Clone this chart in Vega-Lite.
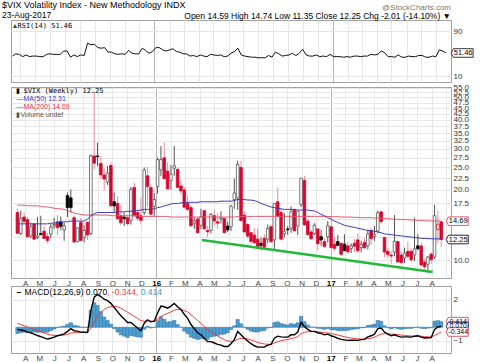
{
"$schema": "https://vega.github.io/schema/vega-lite/v6.json",
"padding": {"left": 1, "top": 0, "right": 2, "bottom": 0},
"background": "white",
"bounds": "flush",
"spacing": 5,
"config": {"font": "Liberation Sans", "view": {"stroke": "#a0a0a0"}, "axis": {"labelFont": "Liberation Sans", "labelFontSize": 8, "labelColor": "#333"}},
"title": {"text": "$VIX Volatility Index - New Methodology INDX", "subtitle": "23-Aug-2017", "anchor": "start", "dx": -8, "offset": -16, "fontSize": 9, "fontWeight": "normal", "color": "#000", "subtitleFontSize": 8.5, "subtitleColor": "#000", "subtitlePadding": 1},
"datasets": {
"w": [
{"d":"2015-03-16","o":16.0,"h":16.6,"l":13.0,"c":13.02,"a":14.3,"b":17.2,"r":46,"m":-0.15,"s":0.30,"g":-0.45},
{"d":"2015-03-23","o":13.0,"h":16.3,"l":12.8,"c":15.07,"a":14.3,"b":17.2,"r":50,"m":-0.20,"s":0.20,"g":-0.40},
{"d":"2015-03-30","o":15.3,"h":16.0,"l":14.3,"c":14.67,"a":14.3,"b":17.2,"r":49,"m":-0.25,"s":0.11,"g":-0.36},
{"d":"2015-04-06","o":14.9,"h":15.3,"l":12.6,"c":12.58,"a":14.3,"b":17.1,"r":45,"m":-0.35,"s":0.02,"g":-0.37},
{"d":"2015-04-13","o":12.7,"h":14.4,"l":12.4,"c":13.89,"a":14.3,"b":17.1,"r":48,"m":-0.40,"s":-0.06,"g":-0.34},
{"d":"2015-04-20","o":14.3,"h":14.4,"l":12.2,"c":12.29,"a":14.3,"b":17.1,"r":45,"m":-0.50,"s":-0.15,"g":-0.35},
{"d":"2015-04-27","o":12.5,"h":15.3,"l":12.3,"c":12.70,"a":14.3,"b":17.1,"r":46,"m":-0.60,"s":-0.24,"g":-0.36},
{"d":"2015-05-04","o":13.0,"h":15.5,"l":12.8,"c":12.86,"a":14.3,"b":17.0,"r":46,"m":-0.68,"s":-0.33,"g":-0.35},
{"d":"2015-05-11","o":13.3,"h":14.0,"l":12.3,"c":12.38,"a":14.3,"b":16.9,"r":45,"m":-0.78,"s":-0.42,"g":-0.36},
{"d":"2015-05-18","o":12.6,"h":13.1,"l":11.8,"c":12.13,"a":14.3,"b":16.9,"r":45,"m":-0.86,"s":-0.50,"g":-0.36},
{"d":"2015-05-25","o":12.9,"h":14.3,"l":12.4,"c":13.84,"a":14.4,"b":16.8,"r":49,"m":-0.80,"s":-0.56,"g":-0.24},
{"d":"2015-06-01","o":14.0,"h":15.2,"l":13.6,"c":14.21,"a":14.4,"b":16.7,"r":50,"m":-0.72,"s":-0.59,"g":-0.13},
{"d":"2015-06-08","o":14.6,"h":15.6,"l":12.8,"c":13.78,"a":14.5,"b":16.6,"r":49,"m":-0.62,"s":-0.60,"g":-0.02},
{"d":"2015-06-15","o":14.6,"h":15.4,"l":13.4,"c":13.96,"a":14.5,"b":16.6,"r":49,"m":-0.55,"s":-0.59,"g":0.04},
{"d":"2015-06-22","o":13.5,"h":14.5,"l":12.1,"c":14.02,"a":14.6,"b":16.5,"r":49,"m":-0.48,"s":-0.57,"g":0.09},
{"d":"2015-06-29","o":18.9,"h":19.5,"l":15.3,"c":16.79,"a":14.6,"b":16.3,"r":55,"m":-0.30,"s":-0.52,"g":0.22},
{"d":"2015-07-06","o":18.5,"h":20.1,"l":16.0,"c":16.83,"a":14.7,"b":16.1,"r":55,"m":-0.10,"s":-0.43,"g":0.33},
{"d":"2015-07-13","o":15.2,"h":15.6,"l":11.8,"c":11.95,"a":14.7,"b":15.9,"r":44,"m":-0.25,"s":-0.40,"g":0.15},
{"d":"2015-07-20","o":12.0,"h":13.8,"l":11.9,"c":13.74,"a":14.7,"b":15.8,"r":48,"m":-0.28,"s":-0.38,"g":0.10},
{"d":"2015-07-27","o":14.5,"h":15.2,"l":12.1,"c":12.12,"a":14.7,"b":15.7,"r":45,"m":-0.35,"s":-0.37,"g":0.02},
{"d":"2015-08-03","o":12.5,"h":14.1,"l":11.9,"c":13.39,"a":14.7,"b":15.6,"r":48,"m":-0.36,"s":-0.37,"g":0.01},
{"d":"2015-08-10","o":14.5,"h":14.7,"l":12.2,"c":12.83,"a":15.0,"b":15.6,"r":47,"m":-0.38,"s":-0.37,"g":-0.01},
{"d":"2015-08-17","o":13.0,"h":28.4,"l":12.8,"c":28.03,"a":15.5,"b":15.6,"r":69,"m":1.20,"s":-0.06,"g":1.26},
{"d":"2015-08-24","o":28.0,"h":53.3,"l":24.5,"c":26.05,"a":15.8,"b":15.6,"r":66,"m":2.20,"s":0.40,"g":1.80},
{"d":"2015-08-31","o":28.0,"h":31.9,"l":25.3,"c":27.80,"a":16.0,"b":15.6,"r":67,"m":2.40,"s":0.80,"g":1.60},
{"d":"2015-09-07","o":26.0,"h":28.0,"l":22.3,"c":23.20,"a":16.0,"b":15.6,"r":61,"m":2.25,"s":1.10,"g":1.15},
{"d":"2015-09-14","o":23.2,"h":24.8,"l":19.9,"c":22.28,"a":16.0,"b":15.6,"r":60,"m":2.05,"s":1.30,"g":0.75},
{"d":"2015-09-21","o":21.6,"h":25.3,"l":21.0,"c":23.62,"a":16.0,"b":15.6,"r":61,"m":1.95,"s":1.45,"g":0.50},
{"d":"2015-09-28","o":25.5,"h":26.3,"l":17.1,"c":17.08,"a":16.0,"b":15.5,"r":53,"m":1.75,"s":1.52,"g":0.23},
{"d":"2015-10-05","o":17.8,"h":19.5,"l":16.1,"c":17.10,"a":16.0,"b":15.5,"r":53,"m":1.45,"s":1.55,"g":-0.10},
{"d":"2015-10-12","o":17.5,"h":18.8,"l":15.0,"c":15.05,"a":16.1,"b":15.5,"r":50,"m":1.15,"s":1.50,"g":-0.35},
{"d":"2015-10-19","o":15.5,"h":17.2,"l":14.1,"c":14.46,"a":16.1,"b":15.5,"r":49,"m":0.85,"s":1.40,"g":-0.55},
{"d":"2015-10-26","o":15.3,"h":16.0,"l":14.0,"c":15.07,"a":16.1,"b":15.5,"r":50,"m":0.60,"s":1.25,"g":-0.65},
{"d":"2015-11-02","o":15.2,"h":15.6,"l":14.1,"c":14.33,"a":16.2,"b":15.5,"r":49,"m":0.35,"s":1.10,"g":-0.75},
{"d":"2015-11-09","o":14.8,"h":20.6,"l":14.2,"c":20.08,"a":16.2,"b":15.5,"r":56,"m":0.35,"s":0.95,"g":-0.60},
{"d":"2015-11-16","o":20.5,"h":21.5,"l":15.4,"c":15.47,"a":16.3,"b":15.5,"r":51,"m":0.15,"s":0.80,"g":-0.65},
{"d":"2015-11-23","o":16.0,"h":16.5,"l":14.8,"c":15.12,"a":16.3,"b":15.5,"r":50,"m":-0.05,"s":0.65,"g":-0.70},
{"d":"2015-11-30","o":15.5,"h":18.5,"l":14.2,"c":14.81,"a":16.4,"b":15.4,"r":50,"m":-0.25,"s":0.48,"g":-0.73},
{"d":"2015-12-07","o":16.0,"h":25.0,"l":15.6,"c":24.39,"a":16.5,"b":15.4,"r":60,"m":0.30,"s":0.45,"g":-0.15},
{"d":"2015-12-14","o":23.0,"h":25.1,"l":17.0,"c":20.70,"a":16.5,"b":15.4,"r":56,"m":0.55,"s":0.47,"g":0.08},
{"d":"2015-12-21","o":20.5,"h":21.0,"l":15.6,"c":15.74,"a":16.5,"b":15.4,"r":51,"m":0.40,"s":0.45,"g":-0.05},
{"d":"2015-12-28","o":17.0,"h":19.4,"l":15.4,"c":18.21,"a":16.6,"b":15.4,"r":54,"m":0.45,"s":0.45,"g":0.00},
{"d":"2016-01-04","o":20.7,"h":27.6,"l":19.3,"c":27.01,"a":16.8,"b":15.4,"r":61,"m":1.05,"s":0.57,"g":0.48},
{"d":"2016-01-11","o":24.4,"h":30.9,"l":22.9,"c":27.02,"a":16.9,"b":15.4,"r":61,"m":1.55,"s":0.77,"g":0.78},
{"d":"2016-01-18","o":27.5,"h":32.1,"l":22.3,"c":22.34,"a":17.1,"b":15.4,"r":57,"m":1.50,"s":0.92,"g":0.58},
{"d":"2016-01-25","o":24.1,"h":26.3,"l":20.2,"c":20.20,"a":17.2,"b":15.4,"r":55,"m":1.40,"s":1.02,"g":0.38},
{"d":"2016-02-01","o":22.0,"h":25.6,"l":20.0,"c":23.38,"a":17.4,"b":15.3,"r":57,"m":1.55,"s":1.13,"g":0.42},
{"d":"2016-02-08","o":24.8,"h":30.9,"l":23.0,"c":25.40,"a":17.5,"b":15.3,"r":59,"m":1.75,"s":1.25,"g":0.50},
{"d":"2016-02-15","o":24.5,"h":25.0,"l":20.3,"c":20.53,"a":17.5,"b":15.3,"r":54,"m":1.50,"s":1.30,"g":0.20},
{"d":"2016-02-22","o":20.8,"h":22.0,"l":19.1,"c":19.81,"a":17.6,"b":15.3,"r":53,"m":1.30,"s":1.30,"g":0.00},
{"d":"2016-02-29","o":20.0,"h":20.6,"l":16.6,"c":16.86,"a":17.6,"b":15.3,"r":50,"m":0.95,"s":1.23,"g":-0.28},
{"d":"2016-03-07","o":17.5,"h":18.8,"l":16.2,"c":16.50,"a":17.7,"b":15.3,"r":50,"m":0.65,"s":1.12,"g":-0.47},
{"d":"2016-03-14","o":16.8,"h":17.1,"l":14.0,"c":14.02,"a":17.7,"b":15.3,"r":46,"m":0.20,"s":0.92,"g":-0.72},
{"d":"2016-03-21","o":14.4,"h":15.3,"l":13.6,"c":14.74,"a":17.7,"b":15.3,"r":47,"m":-0.10,"s":0.71,"g":-0.81},
{"d":"2016-03-28","o":15.0,"h":15.3,"l":13.1,"c":13.10,"a":17.7,"b":15.3,"r":45,"m":-0.40,"s":0.49,"g":-0.89},
{"d":"2016-04-04","o":14.1,"h":16.6,"l":13.6,"c":15.36,"a":17.8,"b":15.3,"r":48,"m":-0.55,"s":0.28,"g":-0.83},
{"d":"2016-04-11","o":16.3,"h":16.3,"l":13.4,"c":13.62,"a":17.8,"b":15.3,"r":46,"m":-0.80,"s":0.06,"g":-0.86},
{"d":"2016-04-18","o":13.4,"h":14.0,"l":12.5,"c":13.22,"a":17.8,"b":15.3,"r":45,"m":-1.05,"s":-0.16,"g":-0.89},
{"d":"2016-04-25","o":13.4,"h":15.9,"l":13.0,"c":15.70,"a":17.8,"b":15.3,"r":49,"m":-1.05,"s":-0.34,"g":-0.71},
{"d":"2016-05-02","o":15.5,"h":16.5,"l":14.1,"c":14.72,"a":17.8,"b":15.3,"r":48,"m":-1.15,"s":-0.50,"g":-0.65},
{"d":"2016-05-09","o":14.6,"h":15.9,"l":13.6,"c":14.41,"a":17.8,"b":15.3,"r":47,"m":-1.25,"s":-0.65,"g":-0.60},
{"d":"2016-05-16","o":15.0,"h":16.2,"l":14.4,"c":15.20,"a":17.9,"b":15.3,"r":48,"m":-1.30,"s":-0.78,"g":-0.52},
{"d":"2016-05-23","o":15.1,"h":15.1,"l":13.0,"c":13.12,"a":17.9,"b":15.3,"r":45,"m":-1.40,"s":-0.90,"g":-0.50},
{"d":"2016-05-30","o":14.0,"h":14.6,"l":13.2,"c":13.47,"a":17.9,"b":15.3,"r":46,"m":-1.40,"s":-1.00,"g":-0.40},
{"d":"2016-06-06","o":13.9,"h":17.3,"l":13.3,"c":17.03,"a":17.9,"b":15.3,"r":51,"m":-1.20,"s":-1.04,"g":-0.16},
{"d":"2016-06-13","o":18.2,"h":22.4,"l":16.6,"c":19.41,"a":18.0,"b":15.3,"r":54,"m":-0.90,"s":-1.01,"g":0.11},
{"d":"2016-06-20","o":18.5,"h":26.7,"l":16.4,"c":25.76,"a":18.2,"b":15.4,"r":60,"m":-0.30,"s":-0.87,"g":0.57},
{"d":"2016-06-27","o":25.0,"h":26.7,"l":14.7,"c":14.77,"a":18.2,"b":15.4,"r":48,"m":-0.55,"s":-0.81,"g":0.26},
{"d":"2016-07-04","o":15.6,"h":16.1,"l":13.5,"c":13.20,"a":18.2,"b":15.4,"r":46,"m":-0.80,"s":-0.81,"g":0.01},
{"d":"2016-07-11","o":14.2,"h":14.4,"l":12.4,"c":12.67,"a":18.1,"b":15.4,"r":45,"m":-1.00,"s":-0.85,"g":-0.15},
{"d":"2016-07-18","o":13.1,"h":13.2,"l":11.7,"c":12.02,"a":18.1,"b":15.4,"r":44,"m":-1.20,"s":-0.92,"g":-0.28},
{"d":"2016-07-25","o":12.8,"h":13.7,"l":11.7,"c":11.87,"a":18.0,"b":15.4,"r":44,"m":-1.35,"s":-1.01,"g":-0.34},
{"d":"2016-08-01","o":12.3,"h":13.7,"l":11.4,"c":11.39,"a":17.8,"b":15.4,"r":43,"m":-1.45,"s":-1.10,"g":-0.35},
{"d":"2016-08-08","o":11.8,"h":12.5,"l":11.0,"c":11.55,"a":17.5,"b":15.4,"r":43,"m":-1.45,"s":-1.17,"g":-0.28},
{"d":"2016-08-15","o":12.4,"h":12.9,"l":11.4,"c":11.34,"a":17.3,"b":15.4,"r":43,"m":-1.45,"s":-1.22,"g":-0.23},
{"d":"2016-08-22","o":12.3,"h":14.2,"l":11.8,"c":13.65,"a":17.1,"b":15.4,"r":47,"m":-1.30,"s":-1.24,"g":-0.06},
{"d":"2016-08-29","o":13.9,"h":14.1,"l":11.9,"c":11.98,"a":16.9,"b":15.4,"r":44,"m":-1.25,"s":-1.24,"g":-0.01},
{"d":"2016-09-05","o":12.2,"h":17.5,"l":11.0,"c":17.50,"a":16.8,"b":15.4,"r":53,"m":-0.80,"s":-1.15,"g":0.35},
{"d":"2016-09-12","o":17.8,"h":20.5,"l":15.4,"c":15.37,"a":16.7,"b":15.4,"r":50,"m":-0.65,"s":-1.05,"g":0.40},
{"d":"2016-09-19","o":16.0,"h":16.6,"l":12.3,"c":12.29,"a":16.6,"b":15.4,"r":46,"m":-0.70,"s":-0.98,"g":0.28},
{"d":"2016-09-26","o":13.0,"h":15.9,"l":12.5,"c":13.29,"a":16.5,"b":15.4,"r":47,"m":-0.72,"s":-0.93,"g":0.21},
{"d":"2016-10-03","o":13.6,"h":14.0,"l":12.8,"c":13.48,"a":16.5,"b":15.4,"r":48,"m":-0.72,"s":-0.89,"g":0.17},
{"d":"2016-10-10","o":13.7,"h":17.0,"l":13.1,"c":16.12,"a":16.5,"b":15.4,"r":51,"m":-0.55,"s":-0.82,"g":0.27},
{"d":"2016-10-17","o":16.5,"h":16.6,"l":13.3,"c":13.34,"a":16.5,"b":15.4,"r":47,"m":-0.55,"s":-0.77,"g":0.22},
{"d":"2016-10-24","o":14.0,"h":16.2,"l":12.8,"c":16.19,"a":16.4,"b":15.4,"r":51,"m":-0.35,"s":-0.68,"g":0.33},
{"d":"2016-10-31","o":17.3,"h":22.5,"l":16.9,"c":22.51,"a":16.4,"b":15.4,"r":58,"m":0.35,"s":-0.46,"g":0.81},
{"d":"2016-11-07","o":22.0,"h":23.0,"l":14.0,"c":14.17,"a":16.4,"b":15.4,"r":48,"m":0.05,"s":-0.36,"g":0.41},
{"d":"2016-11-14","o":14.7,"h":15.1,"l":12.8,"c":12.85,"a":16.4,"b":15.4,"r":46,"m":-0.15,"s":-0.32,"g":0.17},
{"d":"2016-11-21","o":13.2,"h":13.5,"l":12.2,"c":12.34,"a":16.3,"b":15.4,"r":46,"m":-0.30,"s":-0.32,"g":0.02},
{"d":"2016-11-28","o":13.0,"h":14.4,"l":12.8,"c":14.12,"a":16.25,"b":15.4,"r":48,"m":-0.30,"s":-0.32,"g":0.02},
{"d":"2016-12-05","o":13.6,"h":13.6,"l":11.0,"c":11.75,"a":16.0,"b":15.4,"r":45,"m":-0.40,"s":-0.33,"g":-0.07},
{"d":"2016-12-12","o":12.6,"h":13.5,"l":11.5,"c":12.20,"a":15.7,"b":15.4,"r":46,"m":-0.45,"s":-0.36,"g":-0.09},
{"d":"2016-12-19","o":12.0,"h":12.4,"l":11.3,"c":11.44,"a":15.5,"b":15.4,"r":45,"m":-0.55,"s":-0.40,"g":-0.15},
{"d":"2016-12-26","o":12.6,"h":14.7,"l":11.9,"c":14.04,"a":15.2,"b":15.4,"r":49,"m":-0.50,"s":-0.42,"g":-0.08},
{"d":"2017-01-02","o":13.9,"h":14.0,"l":11.2,"c":11.32,"a":15.0,"b":15.35,"r":45,"m":-0.62,"s":-0.46,"g":-0.16},
{"d":"2017-01-09","o":11.7,"h":12.5,"l":10.9,"c":11.23,"a":14.7,"b":15.35,"r":45,"m":-0.70,"s":-0.51,"g":-0.19},
{"d":"2017-01-16","o":12.0,"h":12.8,"l":11.5,"c":11.54,"a":14.5,"b":15.35,"r":45,"m":-0.80,"s":-0.57,"g":-0.23},
{"d":"2017-01-23","o":11.8,"h":11.9,"l":10.4,"c":10.58,"a":14.3,"b":15.3,"r":44,"m":-0.88,"s":-0.63,"g":-0.25},
{"d":"2017-01-30","o":11.7,"h":12.9,"l":10.9,"c":10.97,"a":14.1,"b":15.3,"r":45,"m":-0.92,"s":-0.69,"g":-0.23},
{"d":"2017-02-06","o":11.5,"h":12.0,"l":10.6,"c":10.85,"a":14.0,"b":15.3,"r":44,"m":-0.96,"s":-0.74,"g":-0.22},
{"d":"2017-02-13","o":11.2,"h":11.8,"l":10.7,"c":11.49,"a":13.9,"b":15.3,"r":46,"m":-0.95,"s":-0.79,"g":-0.16},
{"d":"2017-02-20","o":11.8,"h":12.3,"l":10.8,"c":11.47,"a":13.8,"b":15.25,"r":46,"m":-0.95,"s":-0.82,"g":-0.13},
{"d":"2017-02-27","o":12.2,"h":13.0,"l":10.7,"c":10.96,"a":13.7,"b":15.25,"r":45,"m":-0.96,"s":-0.85,"g":-0.11},
{"d":"2017-03-06","o":11.3,"h":12.1,"l":10.8,"c":11.66,"a":13.6,"b":15.2,"r":46,"m":-0.90,"s":-0.86,"g":-0.04},
{"d":"2017-03-13","o":11.9,"h":12.4,"l":11.2,"c":11.28,"a":13.5,"b":15.2,"r":46,"m":-0.88,"s":-0.86,"g":-0.02},
{"d":"2017-03-20","o":11.5,"h":13.5,"l":11.1,"c":12.96,"a":13.4,"b":15.2,"r":49,"m":-0.70,"s":-0.83,"g":0.13},
{"d":"2017-03-27","o":13.4,"h":13.7,"l":11.6,"c":12.37,"a":13.35,"b":15.2,"r":48,"m":-0.62,"s":-0.79,"g":0.17},
{"d":"2017-04-03","o":12.6,"h":14.0,"l":12.1,"c":12.87,"a":13.3,"b":15.15,"r":49,"m":-0.50,"s":-0.73,"g":0.23},
{"d":"2017-04-10","o":13.3,"h":16.3,"l":13.0,"c":15.96,"a":13.2,"b":15.15,"r":55,"m":-0.10,"s":-0.60,"g":0.50},
{"d":"2017-04-17","o":16.1,"h":16.3,"l":14.3,"c":14.63,"a":13.1,"b":15.1,"r":52,"m":-0.05,"s":-0.49,"g":0.44},
{"d":"2017-04-24","o":12.5,"h":12.5,"l":10.3,"c":10.82,"a":12.95,"b":15.1,"r":45,"m":-0.35,"s":-0.46,"g":0.11},
{"d":"2017-05-01","o":10.9,"h":11.2,"l":10.2,"c":10.57,"a":12.9,"b":15.05,"r":45,"m":-0.50,"s":-0.47,"g":-0.03},
{"d":"2017-05-08","o":10.5,"h":10.9,"l":9.6,"c":10.40,"a":12.85,"b":15.0,"r":44,"m":-0.62,"s":-0.50,"g":-0.12},
{"d":"2017-05-15","o":10.8,"h":15.6,"l":10.4,"c":12.04,"a":12.8,"b":15.0,"r":48,"m":-0.55,"s":-0.51,"g":-0.04},
{"d":"2017-05-22","o":12.0,"h":12.1,"l":9.8,"c":9.81,"a":12.75,"b":14.95,"r":44,"m":-0.65,"s":-0.54,"g":-0.11},
{"d":"2017-05-29","o":10.5,"h":11.0,"l":9.6,"c":9.75,"a":12.7,"b":14.95,"r":44,"m":-0.72,"s":-0.57,"g":-0.15},
{"d":"2017-06-05","o":10.2,"h":11.3,"l":9.7,"c":10.70,"a":12.65,"b":14.9,"r":46,"m":-0.70,"s":-0.60,"g":-0.10},
{"d":"2017-06-12","o":10.9,"h":12.0,"l":10.2,"c":10.38,"a":12.6,"b":14.9,"r":45,"m":-0.70,"s":-0.62,"g":-0.08},
{"d":"2017-06-19","o":10.9,"h":11.2,"l":9.8,"c":10.02,"a":12.55,"b":14.85,"r":45,"m":-0.72,"s":-0.64,"g":-0.08},
{"d":"2017-06-26","o":10.5,"h":15.2,"l":9.9,"c":11.18,"a":12.5,"b":14.85,"r":47,"m":-0.65,"s":-0.64,"g":-0.01},
{"d":"2017-07-03","o":11.5,"h":12.9,"l":11.0,"c":11.19,"a":12.45,"b":14.8,"r":47,"m":-0.62,"s":-0.64,"g":0.02},
{"d":"2017-07-10","o":11.5,"h":11.9,"l":9.5,"c":9.51,"a":12.4,"b":14.8,"r":44,"m":-0.72,"s":-0.65,"g":-0.07},
{"d":"2017-07-17","o":9.8,"h":10.1,"l":9.1,"c":9.36,"a":12.38,"b":14.75,"r":44,"m":-0.78,"s":-0.68,"g":-0.10},
{"d":"2017-07-24","o":9.6,"h":10.4,"l":8.8,"c":10.29,"a":12.36,"b":14.75,"r":46,"m":-0.76,"s":-0.70,"g":-0.06},
{"d":"2017-07-31","o":10.6,"h":10.8,"l":9.6,"c":10.03,"a":12.34,"b":14.72,"r":45,"m":-0.75,"s":-0.71,"g":-0.04},
{"d":"2017-08-07","o":10.3,"h":17.3,"l":10.1,"c":15.51,"a":12.33,"b":14.7,"r":57,"m":-0.15,"s":-0.60,"g":0.45},
{"d":"2017-08-14","o":13.5,"h":16.3,"l":11.8,"c":14.26,"a":12.32,"b":14.7,"r":55,"m":0.02,"s":-0.47,"g":0.49},
{"d":"2017-08-21","o":14.59,"h":14.74,"l":11.35,"c":12.25,"a":12.31,"b":14.69,"r":51.46,"m":0.070,"s":-0.344,"g":0.414}
],
"trend": [{"d":"2016-04-06","v":12.19},{"d":"2017-08-03","v":8.88}],
"ptag": [{"d":"2017-08-21","v":14.69,"t":"14.69","k":"ma200"},{"d":"2017-08-21","v":12.25,"t":"12.25","k":"close"}],
"mtag": [{"d":"2017-08-21","v":0.414,"t":"0.414","k":"hist"},{"d":"2017-08-21","v":0.070,"t":"0.070","k":"macd"},{"d":"2017-08-21","v":-0.344,"t":"-0.344","k":"sig"}]
},
"vconcat": [
{
"width": 440, "height": 62,
"title": {"text": "@StockCharts.com", "subtitle": "Open 14.59  High 14.74  Low 11.35  Close 12.25  Chg -2.01 (-14.10%) ▼", "anchor": "end", "frame": "group", "offset": 0, "fontSize": 8, "fontWeight": "normal", "color": "#777", "subtitleFontSize": 8.5, "subtitleColor": "#000", "subtitlePadding": 0},
"data": {"name": "w"},
"layer": [
{"mark": {"type": "line", "color": "#111", "strokeWidth": 1},
 "encoding": {
  "x": {"field": "d", "type": "temporal", "scale": {"domain": [{"year":2015,"month":3,"date":13},{"year":2017,"month":8,"date":31}]},
        "axis": {"title": null, "labels": false, "ticks": false, "domain": false, "grid": true, "tickCount": {"interval": "month", "step": 1}, "gridColor": {"condition": {"test": "month(datum.value)==0", "value": "#b5b5b5"}, "value": "#e6e6e6"}}},
  "y": {"field": "r", "type": "quantitative", "scale": {"domain": [0, 110], "nice": false, "zero": false},
        "axis": {"title": null, "orient": "right", "values": [10, 30, 50, 70, 90], "labelExpr": "datum.value==50 ? '' : datum.label", "ticks": false, "domain": false, "labelPadding": 2, "grid": true, "gridColor": {"condition": {"test": "datum.value>=30 && datum.value<=70", "value": "#999"}, "value": "#e6e6e6"}, "gridDash": {"condition": {"test": "datum.value==50", "value": [5, 2, 1, 2]}, "value": []}}}
 }},
{"data": {"values": [{}]}, "mark": {"type": "text", "align": "left", "baseline": "middle", "font": "DejaVu Sans Mono", "fontSize": 7, "color": "#000", "dx": 5, "text": "RSI(14) 51.46"},
 "encoding": {"x": {"datum": {"year":2015,"month":3,"date":16}, "type": "temporal"}, "y": {"datum": 99}}},
{"data": {"values": [{}]}, "mark": {"type": "text", "align": "left", "baseline": "middle", "fontSize": 7, "color": "#2a5a2a", "dx": -1, "text": "▲"},
 "encoding": {"x": {"datum": {"year":2015,"month":3,"date":16}, "type": "temporal"}, "y": {"datum": 99}}},
{"data": {"values": [{}]}, "mark": {"type": "point", "shape": "M-1,0L-0.8,-0.39H1V0.39H-0.8Z", "size": 484, "filled": true, "fill": "#fff", "stroke": "#333", "strokeWidth": 1, "opacity": 1, "xOffset": 16},
 "encoding": {"x": {"datum": {"year":2017,"month":8,"date":21}, "type": "temporal"}, "y": {"datum": 51.46}}},
{"data": {"values": [{}]}, "mark": {"type": "text", "align": "center", "baseline": "middle", "fontSize": 7.5, "color": "#000", "xOffset": 17, "text": "51.46"},
 "encoding": {"x": {"datum": {"year":2017,"month":8,"date":21}, "type": "temporal"}, "y": {"datum": 51.46}}}
]
},
{
"bounds": "flush",
"spacing": 8,
"vconcat": [
{
"width": 440, "height": 191,
"data": {"name": "w"},
"transform": [{"window": [{"op": "lag", "field": "c", "as": "pc"}], "sort": [{"field": "d"}]}],
"layer": [
{"mark": {"type": "rule", "strokeWidth": 1},
 "encoding": {
  "x": {"field": "d", "type": "temporal", "scale": {"domain": [{"year":2015,"month":3,"date":13},{"year":2017,"month":8,"date":31}]},
        "axis": {"title": null, "orient": "bottom", "tickCount": {"interval": "month", "step": 1}, "labelExpr": "year(datum.value)==2017 && month(datum.value)==8 ? '' : month(datum.value)==0 ? timeFormat(datum.value,'%y') : slice(timeFormat(datum.value,'%b'),0,1)", "labelFontWeight": {"condition": {"test": "month(datum.value)==0", "value": "bold"}, "value": "normal"}, "labelColor": {"condition": {"test": "month(datum.value)==0", "value": "#000"}, "value": "#444"}, "labelFontSize": 8, "labelPadding": 1, "ticks": false, "domain": false, "grid": true, "gridColor": {"condition": {"test": "month(datum.value)==0", "value": "#b5b5b5"}, "value": "#e6e6e6"}, "labelOverlap": false, "labelFlush": false}},
  "y": {"field": "l", "type": "quantitative", "scale": {"type": "log", "domain": [8.37, 55.4], "nice": false, "zero": false},
        "axis": {"title": null, "orient": "right", "values": [10, 12.5, 15, 17.5, 20, 22.5, 25, 27.5, 30, 32.5, 35, 37.5, 40, 42.5, 45, 47.5, 50, 52.5, 55], "format": ".1f", "labelExpr": "datum.value==12.5 || datum.value==15 ? '' : datum.label", "ticks": false, "domain": false, "labelPadding": 2, "labelOverlap": false, "grid": true, "gridColor": "#e6e6e6"}},
  "y2": {"field": "h"},
  "color": {"condition": {"test": "datum.pc == null || datum.c < datum.pc", "value": "#f08a9c"}, "value": "#555"}
 }},
{"mark": {"type": "bar", "width": 2.6, "strokeWidth": 0.8},
 "encoding": {
  "x": {"field": "d", "type": "temporal"},
  "y": {"field": "o", "type": "quantitative"},
  "y2": {"field": "c"},
  "fill": {"condition": [{"test": "datum.c >= datum.o", "value": "#ffffff"}, {"test": "datum.pc == null || datum.c < datum.pc", "value": "#d7062f"}], "value": "#000000"},
  "stroke": {"condition": [{"test": "datum.pc == null || datum.c < datum.pc", "value": "#d7062f"}, {"test": "datum.c >= datum.o", "value": "#555555"}], "value": "#000000"}
 }},
{"mark": {"type": "line", "color": "#e5576f", "strokeWidth": 1},
 "encoding": {"x": {"field": "d", "type": "temporal"}, "y": {"field": "b", "type": "quantitative"}}},
{"mark": {"type": "line", "color": "#3b3bb0", "strokeWidth": 1},
 "encoding": {"x": {"field": "d", "type": "temporal"}, "y": {"field": "a", "type": "quantitative"}}},
{"data": {"name": "trend"}, "mark": {"type": "line", "color": "#22b83c", "strokeWidth": 2.5},
 "encoding": {"x": {"field": "d", "type": "temporal"}, "y": {"field": "v", "type": "quantitative"}}},
{"data": {"values": [{}]}, "mark": {"type": "text", "align": "left", "baseline": "middle", "font": "DejaVu Sans Mono", "fontSize": 7, "color": "#000", "dx": 6, "text": "$VIX (Weekly) 12.25"},
 "encoding": {"x": {"datum": {"year":2015,"month":3,"date":16}, "type": "temporal"}, "y": {"datum": 53.3}}},
{"data": {"values": [{}]}, "mark": {"type": "text", "align": "left", "baseline": "middle", "fontSize": 7, "color": "#000", "dx": -1, "text": "▮"},
 "encoding": {"x": {"datum": {"year":2015,"month":3,"date":16}, "type": "temporal"}, "y": {"datum": 53.3}}},
{"data": {"values": [{}]}, "mark": {"type": "text", "align": "left", "baseline": "middle", "fontSize": 7, "color": "#3b3bb0", "dx": -1, "text": "—MA(50) 12.31"},
 "encoding": {"x": {"datum": {"year":2015,"month":3,"date":16}, "type": "temporal"}, "y": {"datum": 49.3}}},
{"data": {"values": [{}]}, "mark": {"type": "text", "align": "left", "baseline": "middle", "fontSize": 7, "color": "#e0304f", "dx": -1, "text": "—MA(200) 14.69"},
 "encoding": {"x": {"datum": {"year":2015,"month":3,"date":16}, "type": "temporal"}, "y": {"datum": 45.5}}},
{"data": {"values": [{}]}, "mark": {"type": "text", "align": "left", "baseline": "middle", "fontSize": 7, "color": "#555", "dx": -1, "text": "▮Volume undef"},
 "encoding": {"x": {"datum": {"year":2015,"month":3,"date":16}, "type": "temporal"}, "y": {"datum": 42.2}}},
{"data": {"name": "ptag"}, "mark": {"type": "point", "shape": "M-1,0L-0.8,-0.39H1V0.39H-0.8Z", "size": 484, "filled": true, "fill": "#fff", "strokeWidth": 1, "opacity": 1, "xOffset": 16},
 "encoding": {"x": {"field": "d", "type": "temporal"}, "y": {"field": "v", "type": "quantitative"},
  "stroke": {"field": "k", "type": "nominal", "scale": {"domain": ["ma200", "close"], "range": ["#e5576f", "#1a1a60"]}, "legend": null}}},
{"data": {"name": "ptag"}, "mark": {"type": "text", "align": "center", "baseline": "middle", "fontSize": 7.5, "color": "#000", "xOffset": 17},
 "encoding": {"x": {"field": "d", "type": "temporal"}, "y": {"field": "v", "type": "quantitative"}, "text": {"field": "t"}}}
]
},
{
"width": 440, "height": 67,
"data": {"name": "w"},
"layer": [
{"mark": {"type": "bar", "width": 3.3, "fill": "#4f9fd3", "stroke": "#2b6d9b", "strokeWidth": 0.5},
 "encoding": {
  "x": {"field": "d", "type": "temporal", "scale": {"domain": [{"year":2015,"month":3,"date":13},{"year":2017,"month":8,"date":31}]},
        "axis": {"title": null, "orient": "bottom", "tickCount": {"interval": "month", "step": 1}, "labelExpr": "year(datum.value)==2017 && month(datum.value)==8 ? '' : month(datum.value)==0 ? timeFormat(datum.value,'%y') : slice(timeFormat(datum.value,'%b'),0,1)", "labelFontWeight": {"condition": {"test": "month(datum.value)==0", "value": "bold"}, "value": "normal"}, "labelColor": {"condition": {"test": "month(datum.value)==0", "value": "#000"}, "value": "#444"}, "labelFontSize": 8, "labelPadding": 1, "ticks": false, "domain": false, "grid": true, "gridColor": {"condition": {"test": "month(datum.value)==0", "value": "#b5b5b5"}, "value": "#e6e6e6"}, "labelOverlap": false, "labelFlush": false}},
  "y": {"field": "g", "type": "quantitative", "scale": {"domain": [-1.88, 3.02], "nice": false, "zero": false},
        "axis": {"title": null, "orient": "right", "values": [-1, 0, 1, 2], "labelExpr": "datum.value==0 ? '' : datum.label", "ticks": false, "domain": false, "labelPadding": 2, "grid": true, "gridColor": "#e6e6e6"}},
  "y2": {"datum": 0}
 }},
{"mark": {"type": "line", "color": "#f23a3a", "strokeWidth": 1},
 "encoding": {"x": {"field": "d", "type": "temporal"}, "y": {"field": "s", "type": "quantitative"}}},
{"mark": {"type": "line", "color": "#000", "strokeWidth": 1.4},
 "encoding": {"x": {"field": "d", "type": "temporal"}, "y": {"field": "m", "type": "quantitative"}}},
{"data": {"values": [{}]}, "mark": {"type": "text", "align": "left", "baseline": "middle", "fontSize": 8.5, "fontWeight": "bold", "color": "#000", "dx": -1, "text": "–"},
 "encoding": {"x": {"datum": {"year":2015,"month":3,"date":16}, "type": "temporal"}, "y": {"datum": 2.6}}},
{"data": {"values": [{}]}, "mark": {"type": "text", "align": "left", "baseline": "middle", "fontSize": 8.5, "color": "#000", "dx": 7, "text": "MACD(12,26,9) 0.070"},
 "encoding": {"x": {"datum": {"year":2015,"month":3,"date":16}, "type": "temporal"}, "y": {"datum": 2.6}}},
{"data": {"values": [{}]}, "mark": {"type": "text", "align": "left", "baseline": "middle", "fontSize": 8.5, "color": "#f23a3a", "dx": 89.7, "text": ", -0.344,"},
 "encoding": {"x": {"datum": {"year":2015,"month":3,"date":16}, "type": "temporal"}, "y": {"datum": 2.6}}},
{"data": {"values": [{}]}, "mark": {"type": "text", "align": "left", "baseline": "middle", "fontSize": 8.5, "color": "#3399cc", "dx": 123.3, "text": "0.414"},
 "encoding": {"x": {"datum": {"year":2015,"month":3,"date":16}, "type": "temporal"}, "y": {"datum": 2.6}}},
{"data": {"name": "mtag"}, "mark": {"type": "point", "shape": "M-1,0L-0.8,-0.39H1V0.39H-0.8Z", "size": 484, "filled": true, "fill": "#fff", "strokeWidth": 1, "opacity": 1, "xOffset": 16},
 "encoding": {"x": {"field": "d", "type": "temporal"}, "y": {"field": "v", "type": "quantitative"},
  "stroke": {"field": "k", "type": "nominal", "scale": {"domain": ["hist", "macd", "sig"], "range": ["#3399cc", "#000000", "#f23a3a"]}, "legend": null}}},
{"data": {"name": "mtag"}, "mark": {"type": "text", "align": "center", "baseline": "middle", "fontSize": 7, "color": "#000", "xOffset": 17},
 "encoding": {"x": {"field": "d", "type": "temporal"}, "y": {"field": "v", "type": "quantitative"}, "text": {"field": "t"}}}
]
}
]
}
]
}
